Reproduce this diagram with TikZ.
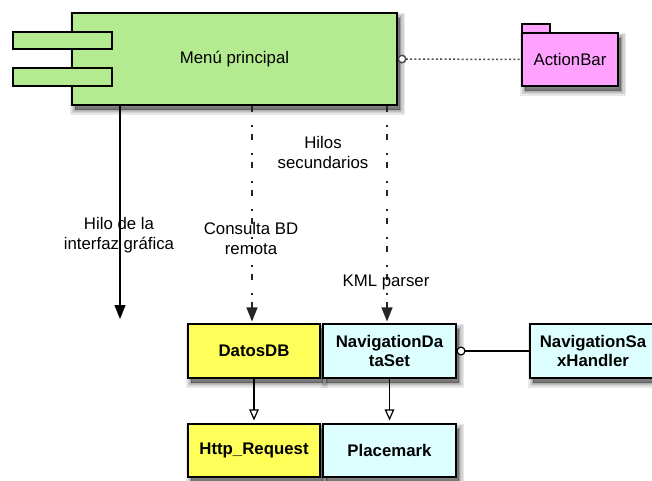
\documentclass[tikz,border=0pt]{standalone}
\usepackage{fontspec}
\setmainfont{Liberation Sans}
\usetikzlibrary{arrows.meta}

\definecolor{menugreen}{RGB}{180,234,144}
\definecolor{pkgpink}{RGB}{255,162,255}
\definecolor{dbyellow}{RGB}{255,255,90}
\definecolor{navcyan}{RGB}{222,255,255}

\tikzset{
  % soft drop shadow built from a few translucent layers
  shadowlayer/.style={preaction={draw=black, fill=black, line width=#1,
      draw opacity=0.09, fill opacity=0.09,
      transform canvas={shift={(3pt,-4.5pt)}}}},
  shade box/.style={shadowlayer=10pt, shadowlayer=7pt, shadowlayer=4.5pt,
      shadowlayer=2pt, shadowlayer=0pt},
  block/.style={draw=black, line width=1.1pt, inner sep=0pt, align=center,
      font=\fontsize{16.8}{19.5}\selectfont},
  classbox/.style={block, shade box, font=\fontsize{16.8}{19.5}\selectfont\bfseries},
  lbl/.style={align=center, inner sep=0pt, font=\fontsize{16.8}{20}\selectfont},
  thread/.style={line width=1.2pt, -{Triangle[width=11pt,length=14pt]}},
  worker/.style={thread, black!85, dash pattern=on 6pt off 13pt on 2pt off 7pt},
  inherit/.style={line width=1.2pt, shorten >=3pt,
      -{Triangle[open,width=9.5pt,length=11pt,fill=white]}},
  iface/.style={line width=1.2pt, {Circle[open,length=9pt,fill=white]}-},
}

\begin{document}
\begin{tikzpicture}[x=1pt,y=-1pt]
  \useasboundingbox (0,0) rectangle (652,480);
  \clip (0,0) rectangle (652,480);

  % main component with its two ports
  \node[block, shade box, fill=menugreen, minimum width=325pt, minimum height=92pt]
    (menu) at (234.5,59) {Menú principal};
  \node[block, fill=menugreen, minimum width=99pt, minimum height=17pt] (port1) at (62.5,40.5) {};
  \node[block, fill=menugreen, minimum width=99pt, minimum height=18pt] (port2) at (62.5,77) {};

  % package ActionBar
  \node[block, fill=pkgpink, minimum width=28pt, minimum height=9pt] (tab) at (536,28.5) {};
  \node[block, shade box, fill=pkgpink, minimum width=96pt, minimum height=53pt]
    (actionbar) at (570,59.5) {ActionBar};
  \draw[iface, black!70, line width=1.5pt, dash pattern=on 2pt off 2.3pt]
    (menu.east) -- (actionbar.west);

  % classes
  \node[classbox, fill=dbyellow, minimum width=132pt, minimum height=54pt] (datos) at (254,351) {DatosDB};
  \node[classbox, fill=navcyan, minimum width=133pt, minimum height=54pt] (nav) at (389.5,351) {NavigationDa\\taSet};
  \node[classbox, fill=navcyan, minimum width=126pt, minimum height=54pt] (sax) at (593,351) {NavigationSa\\xHandler};
  \node[classbox, fill=dbyellow, minimum width=132pt, minimum height=53pt] (http) at (254,450.5) {Http\_Request};
  \node[classbox, fill=navcyan, minimum width=133pt, minimum height=53pt] (place) at (389.5,450.5) {Placemark};

  % threads leaving the main menu
  \coordinate (guiend) at (120,319);
  \draw[thread] (guiend |- menu.south) -- (guiend);
  \draw[worker, shorten >=2pt] ([xshift=-2pt]datos.north |- menu.south) -- ([xshift=-2pt]datos.north);
  \draw[worker, shorten >=2pt] ([xshift=-2.5pt]nav.north |- menu.south) -- ([xshift=-2.5pt]nav.north);

  % relations between classes
  \draw[inherit] (datos) -- (http);
  \draw[inherit] (nav) -- (place);
  \draw[iface] (nav.east) -- (sax.west);

  % labels
  \node[lbl] (lsec) at (323,152) {Hilos\\secundarios};
  \node[lbl] (lgui) at (119,235) {Hilo de la\\interfaz gráfica};
  \node[lbl] (lbd) at (251,238) {Consulta BD\\remota};
  \node[lbl] (lkml) at (386,282) {KML parser};
\end{tikzpicture}
\end{document}
